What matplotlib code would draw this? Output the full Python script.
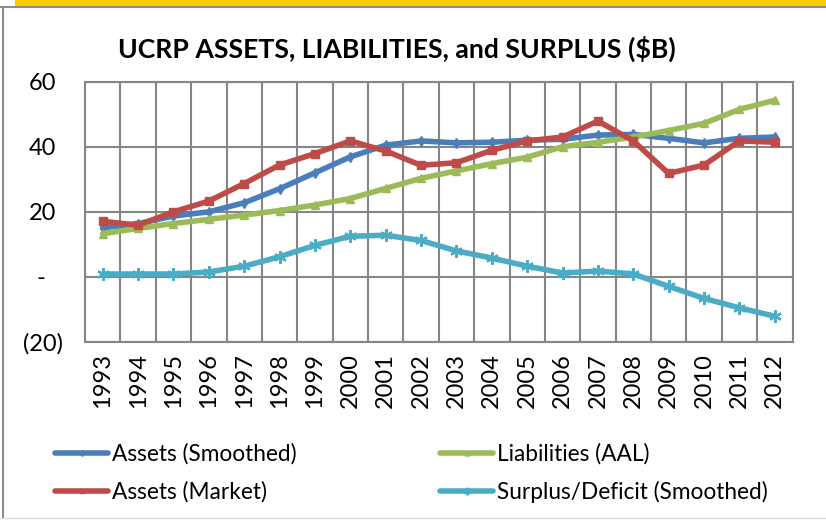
import matplotlib.pyplot as plt
import matplotlib.patches as mpatches
from matplotlib.lines import Line2D
from matplotlib.transforms import ScaledTranslation

plt.rcParams['font.family'] = ['Lato', 'DejaVu Sans']

# data ($B)
anos = [str(a) for a in range(1993, 2013)]
ativos_suav = [15.1, 16.4, 18.7, 20.0, 22.8, 27.1, 32.0, 36.9, 40.5, 41.8,
               41.2, 41.4, 42.0, 42.3, 43.6, 43.8, 42.6, 41.2, 42.6, 43.0]
ativos_mercado = [17.1, 15.9, 20.0, 23.3, 28.7, 34.4, 37.9, 41.8, 38.7, 34.3,
                  35.1, 38.9, 41.8, 43.0, 47.9, 41.8, 31.8, 34.4, 41.8, 41.4]
passivos = [13.3, 14.9, 16.4, 17.7, 19.0, 20.4, 22.1, 24.1, 27.2, 30.3,
            32.6, 34.8, 36.8, 40.0, 41.4, 43.0, 45.0, 47.2, 51.5, 54.3]
superavit = [0.9, 0.9, 0.9, 1.5, 3.3, 6.2, 9.7, 12.5, 12.8, 11.2,
             8.0, 5.8, 3.3, 1.2, 1.8, 0.9, -2.9, -6.6, -9.5, -12.1]
y_ticks = [-20, 0, 20, 40, 60]
y_labels = ["(20)", "-", "20", "40", "60"]

W, H = 826, 523
fig = plt.figure(figsize=(W / 100, H / 100), dpi=100)
ax = fig.add_axes([85 / W, 1 - 342 / H, (792.5 - 85) / W, (342 - 81.7) / H])

x = list(range(len(anos)))
estilo = dict(lw=4.0, solid_capstyle='round', solid_joinstyle='round')
l_as, = ax.plot(x, ativos_suav, color='#4A7EBB', marker='d', ms=5, label='Assets (Smoothed)', **estilo)
l_li, = ax.plot(x, passivos, color='#9BBB59', marker='^', ms=6, label='Liabilities (AAL)', **estilo)
l_am, = ax.plot(x, ativos_mercado, color='#BE4B48', marker='s', ms=6, label='Assets (Market)', **estilo)
l_su, = ax.plot(x, superavit, color='#4BACC6', marker=(6, 2, 0), ms=9, mew=1.6,
                label='Surplus/Deficit (Smoothed)', **estilo)

ax.set_xlim(-0.5, len(anos) - 0.5)
ax.set_ylim(-20, 60)
ax.set_xticks(x)
ax.set_xticklabels(anos, rotation=90, fontsize=17)
ax.set_xticks([i - 0.5 for i in range(len(anos) + 1)], minor=True)
ax.set_yticks(y_ticks)
ax.set_yticklabels(y_labels, fontsize=17)
ax.tick_params(axis='both', which='both', length=0)
ax.tick_params(axis='y', pad=16)
ax.tick_params(axis='x', pad=8)

# alinhamento tipo "contabil" dos rotulos do eixo y
for lab, txt in zip(ax.get_yticklabels(), y_labels):
    if txt == "-":
        dx = -0.17
    elif txt.startswith("("):
        dx = 0
    else:
        dx = -0.07
    lab.set_transform(lab.get_transform() + ScaledTranslation(dx, 0, fig.dpi_scale_trans))

ax.grid(True, which='minor', axis='x', color='#868686', lw=1.5)
ax.grid(True, which='major', axis='y', color='#868686', lw=1.5)
ax.set_axisbelow(True)
for s in ax.spines.values():
    s.set_color('#868686')
    s.set_linewidth(1.5)

fig.text(397 / W, 1 - 49 / H, "UCRP ASSETS, LIABILITIES, and SURPLUS ($B)",
         ha='center', va='center', fontsize=19.2, fontweight='bold')

# legenda em duas colunas
opts_leg = dict(loc='center left', frameon=False, fontsize=16.3, handlelength=2.35,
                handletextpad=0.15, labelspacing=0.72, markerscale=0.6, numpoints=1,
                borderpad=0, borderaxespad=0)
fig.legend(handles=[l_as, l_am], bbox_to_anchor=(55 / W, 1 - 473 / H), **opts_leg)
fig.legend(handles=[l_li, l_su], bbox_to_anchor=(440 / W, 1 - 473 / H), **opts_leg)

# moldura e faixa amarela
fig.add_artist(mpatches.Rectangle((15 / W, 1 - 5.5 / H), 1, 5.5 / H, transform=fig.transFigure,
                                  color='#FFCC00', lw=0))
fig.add_artist(Line2D([0, 1], [1 - 6.5 / H] * 2, transform=fig.transFigure, color='#8C8C8C', lw=1.5))
fig.add_artist(Line2D([2.5 / W] * 2, [1 - 6.5 / H, 1 - 518 / H], transform=fig.transFigure,
                      color='#8C8C8C', lw=1.5))
fig.add_artist(Line2D([0, 1], [1 - 518 / H] * 2, transform=fig.transFigure, color='#DDDDDD', lw=1))

fig.savefig('out.png', dpi=100)
